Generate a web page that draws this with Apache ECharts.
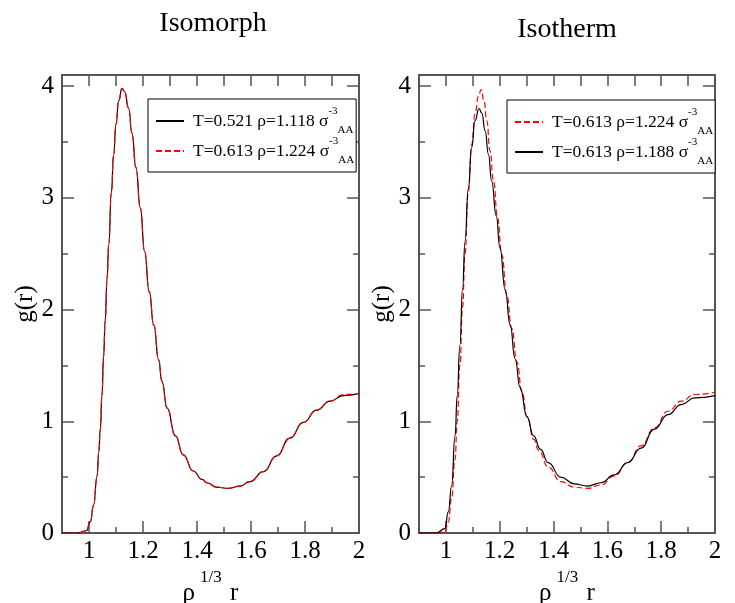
<!DOCTYPE html>
<html><head><meta charset="utf-8">
<script src="https://cdn.jsdelivr.net/npm/echarts@6/dist/echarts.min.js"></script>
<style>html,body{margin:0;padding:0;background:#fff}#c{width:735px;height:603px}</style>
</head><body><div id="c"></div>
<script>
// ---- data ----
// Isomorph panel
const rIsomorphA = [0.90,0.96,0.99,1.005,1.017,1.03,1.036,1.042,1.048,1.054,1.06,1.067,1.073,1.083,1.091,1.10,1.11,1.122,1.132,1.147,1.159,1.174,1.19,1.206,1.223,1.24,1.258,1.27,1.289,1.32,1.349,1.386,1.419,1.436,1.473,1.516,1.559,1.596,1.646,1.695,1.744,1.794,1.843,1.893,1.942,2.0];
const gIsomorphA = [0,0,0.02,0.1,0.25,0.51,0.72,0.93,1.23,1.58,1.90,2.28,2.58,3.05,3.38,3.66,3.87,3.98,3.95,3.80,3.58,3.27,2.91,2.52,2.16,1.86,1.55,1.36,1.12,0.87,0.70,0.555,0.48,0.45,0.41,0.40,0.42,0.46,0.55,0.69,0.85,0.99,1.10,1.18,1.23,1.25];
const rIsomorphB = [0.90,0.96,0.99,1.005,1.017,1.03,1.036,1.042,1.048,1.054,1.06,1.067,1.073,1.083,1.091,1.10,1.11,1.122,1.132,1.147,1.159,1.174,1.19,1.206,1.223,1.24,1.258,1.27,1.289,1.32,1.349,1.386,1.419,1.436,1.473,1.516,1.559,1.596,1.646,1.695,1.744,1.794,1.843,1.893,1.942,2.0];
const gIsomorphB = [0,0,0.02,0.1,0.25,0.51,0.72,0.93,1.23,1.58,1.90,2.28,2.58,3.05,3.38,3.66,3.87,3.98,3.95,3.80,3.58,3.27,2.91,2.52,2.16,1.86,1.55,1.36,1.12,0.87,0.70,0.555,0.48,0.45,0.41,0.40,0.42,0.46,0.55,0.69,0.85,0.99,1.10,1.18,1.24,1.25];
// Isotherm panel
const rIsothermRed = [0.90,0.97,0.996,1.009,1.021,1.034,1.042,1.052,1.062,1.071,1.083,1.096,1.108,1.121,1.131,1.142,1.152,1.164,1.177,1.192,1.208,1.226,1.245,1.264,1.283,1.302,1.326,1.345,1.38,1.427,1.477,1.526,1.576,1.626,1.676,1.725,1.775,1.825,1.875,1.924,2.0];
const gIsothermRed = [0,0,0.01,0.10,0.31,0.66,1.00,1.50,2.02,2.50,3.05,3.48,3.75,3.91,3.97,3.86,3.69,3.42,3.15,2.82,2.49,2.13,1.83,1.53,1.26,1.04,0.84,0.74,0.59,0.46,0.41,0.40,0.43,0.51,0.63,0.78,0.94,1.09,1.18,1.24,1.26];
const rIsothermBlack = [0.90,0.965,0.996,1.009,1.021,1.034,1.042,1.052,1.062,1.071,1.083,1.096,1.108,1.123,1.133,1.146,1.158,1.170,1.187,1.201,1.220,1.239,1.257,1.276,1.301,1.326,1.351,1.38,1.427,1.477,1.526,1.576,1.626,1.676,1.725,1.775,1.825,1.875,1.924,2.0];
const gIsothermBlack = [0,0,0.04,0.19,0.42,0.87,1.23,1.68,2.19,2.61,3.08,3.45,3.69,3.80,3.76,3.60,3.39,3.15,2.84,2.55,2.18,1.86,1.56,1.30,1.04,0.87,0.75,0.63,0.50,0.44,0.42,0.45,0.52,0.63,0.76,0.93,1.06,1.15,1.21,1.23];

const panelTitles = ['Isomorph', 'Isotherm'];
const namesIsomorph = ['T=0.521 ρ=1.118', 'T=0.613 ρ=1.224'];
const namesIsotherm = ['T=0.613 ρ=1.224', 'T=0.613 ρ=1.188'];
const xMajorTicks = [1, 1.2, 1.4, 1.6, 1.8, 2];
const xMinorTicks = [1.1, 1.3, 1.5, 1.7, 1.9];
const yMajorTicks = [0, 1, 2, 3, 4];
const yMinorTicks = [0.5, 1.5, 2.5, 3.5];
const xRange = [0.9, 2.0];
const yRange = [0, 4.1];

// ---- chart ----
const FONT = '"Liberation Serif", "Times New Roman", serif';
const AX = '#555';
const pair = (xs, ys) => xs.map((x, i) => [x, ys[i]]);

const panels = [
  { left: 62, width: 297 },
  { left: 419, width: 296 }
];
const grids = [];
const xAxes = [];
const yAxes = [];
panels.forEach(p => {
  for (let i = 0; i < 2; i++) {
    grids.push({ left: p.left, top: 75, width: p.width, height: 458, outerBoundsMode: 'none', containLabel: false });
  }
});

function xBase(gi) {
  return { type: 'value', gridIndex: gi, min: xRange[0], max: xRange[1], interval: 0.1, splitLine: { show: false } };
}
function yBase(gi) {
  return { type: 'value', gridIndex: gi, min: yRange[0], max: yRange[1], interval: 0.5, splitLine: { show: false } };
}
panels.forEach((p, k) => {
  const gMain = 2 * k, gMin = 2 * k + 1;
  xAxes.push(Object.assign(xBase(gMain), {
    position: 'bottom',
    axisLine: { show: true, onZero: false, lineStyle: { color: AX, width: 2 } },
    axisTick: { show: true, inside: true, length: 12, customValues: xMajorTicks, lineStyle: { color: AX, width: 1.5 } },
    axisLabel: { show: true, customValues: xMajorTicks, margin: 6, color: '#000', fontFamily: FONT, fontSize: 25,
      formatter: v => String(+(+v).toFixed(1)) },
    name: '{m|ρ}{s|1/3}{m| r}', nameLocation: 'middle', nameGap: 28,
    nameTextStyle: { rich: {
      m: { fontFamily: FONT, fontSize: 25, color: '#000', verticalAlign: 'middle', lineHeight: 50 },
      s: { fontFamily: FONT, fontSize: 17, color: '#000', verticalAlign: 'top', lineHeight: 17, padding: [0, 2, 0, 5] }
    } }
  }));
  xAxes.push(Object.assign(xBase(gMain), {
    position: 'top',
    axisLine: { show: true, onZero: false, lineStyle: { color: AX, width: 2 } },
    axisTick: { show: true, inside: true, length: 11, customValues: xMajorTicks.concat(xMinorTicks), lineStyle: { color: AX, width: 1.5 } },
    axisLabel: { show: false }
  }));
  xAxes.push(Object.assign(xBase(gMin), {
    position: 'bottom',
    axisLine: { show: false, onZero: false },
    axisTick: { show: true, inside: true, length: 6, customValues: xMinorTicks, lineStyle: { color: AX, width: 1.5 } },
    axisLabel: { show: false }
  }));
  yAxes.push(Object.assign(yBase(gMain), {
    position: 'left',
    axisLine: { show: true, onZero: false, lineStyle: { color: AX, width: 2 } },
    axisTick: { show: true, inside: true, length: 12, customValues: yMajorTicks, lineStyle: { color: AX, width: 1.5 } },
    axisLabel: { show: true, customValues: yMajorTicks, margin: 8, color: '#000', fontFamily: FONT, fontSize: 25 },
    name: 'g(r)', nameLocation: 'middle', nameGap: 24, nameRotate: 90,
    nameTextStyle: { fontFamily: FONT, fontSize: 25, color: '#000' }
  }));
  yAxes.push(Object.assign(yBase(gMain), {
    position: 'right',
    axisLine: { show: true, onZero: false, lineStyle: { color: AX, width: 2 } },
    axisTick: { show: true, inside: true, length: 12, customValues: yMajorTicks, lineStyle: { color: AX, width: 1.5 } },
    axisLabel: { show: false }
  }));
  ['left', 'right'].forEach(pos => {
    yAxes.push(Object.assign(yBase(gMin), {
      position: pos,
      axisLine: { show: false, onZero: false },
      axisTick: { show: true, inside: true, length: 6, customValues: yMinorTicks, lineStyle: { color: AX, width: 1.5 } },
      axisLabel: { show: false }
    }));
  });
});

function lineSeries(name, data, xi, yi, color, dashed) {
  return {
    type: 'line', name, data, xAxisIndex: xi, yAxisIndex: yi,
    symbol: 'none', smooth: 0.5, smoothMonotone: 'x', animation: false,
    lineStyle: { color, width: 1.2, type: dashed ? [6, 3] : 'solid' },
    itemStyle: { color }
  };
}
const series = [
  lineSeries(namesIsomorph[0], pair(rIsomorphA, gIsomorphA), 0, 0, '#000', false),
  lineSeries(namesIsomorph[1], pair(rIsomorphB, gIsomorphB), 0, 0, '#ff0000', true),
  lineSeries(namesIsotherm[0], pair(rIsothermRed, gIsothermRed), 3, 4, '#ff0000', true),
  lineSeries(namesIsotherm[1], pair(rIsothermBlack, gIsothermBlack), 3, 4, '#000', false)
];

const legendRich = {
  m: { fontFamily: FONT, fontSize: 17.5, color: '#000', lineHeight: 30, verticalAlign: 'middle' },
  sup: { fontFamily: FONT, fontSize: 11, color: '#000', lineHeight: 12, verticalAlign: 'top' },
  sub: { fontFamily: FONT, fontSize: 11, color: '#000', lineHeight: 12, verticalAlign: 'bottom' }
};
function legendOf(names, left, top) {
  return {
    data: names, left, top, orient: 'vertical', itemWidth: 28, itemHeight: 14, itemGap: 0,
    padding: [7, 2, 6, 7], borderColor: '#000', borderWidth: 1, backgroundColor: '#fff',
    selectedMode: false,
    itemStyle: { opacity: 0 },
    formatter: n => '{m|' + n + ' σ}{sup|-3}{sub|AA}',
    textStyle: { rich: legendRich, padding: [0, 0, 0, 4] }
  };
}

const chart = echarts.init(document.getElementById('c'), null, { renderer: 'canvas' });
chart.setOption({
  backgroundColor: '#fff',
  animation: false,
  grid: grids,
  xAxis: xAxes,
  yAxis: yAxes,
  series,
  legend: [legendOf(namesIsomorph, 148, 99), legendOf(namesIsotherm, 507, 100)],
  graphic: [
    { type: 'text', x: 213, y: 24, style: { text: panelTitles[0], font: '28px "Liberation Serif"', fill: '#000', align: 'center', verticalAlign: 'middle', textAlign: 'center', textVerticalAlign: 'middle' } },
    { type: 'text', x: 567, y: 30, style: { text: panelTitles[1], font: '28px "Liberation Serif"', fill: '#000', align: 'center', verticalAlign: 'middle', textAlign: 'center', textVerticalAlign: 'middle' } }
  ]
});
</script></body></html>
